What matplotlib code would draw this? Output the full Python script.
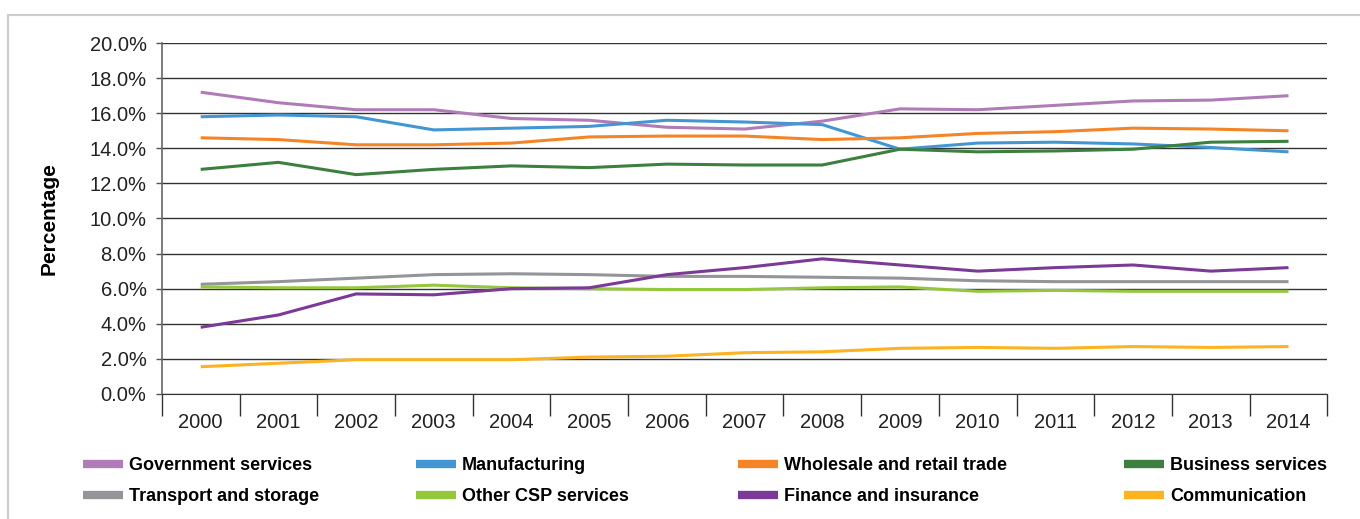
import matplotlib
matplotlib.use("Agg")
import matplotlib.pyplot as plt
from matplotlib.lines import Line2D
from matplotlib.patches import Rectangle
from matplotlib.ticker import FixedLocator, PercentFormatter

plt.rcParams['font.family'] = ['Liberation Sans', 'DejaVu Sans']

# data (percent)
years = list(range(2000, 2015))
government = [17.2, 16.6, 16.2, 16.2, 15.7, 15.6, 15.2, 15.1, 15.55, 16.25, 16.2, 16.45, 16.7, 16.75, 17.0]
manufacturing = [15.8, 15.9, 15.8, 15.05, 15.15, 15.25, 15.6, 15.5, 15.35, 13.95, 14.3, 14.35, 14.25, 14.05, 13.8]
wholesale = [14.6, 14.5, 14.2, 14.2, 14.3, 14.65, 14.7, 14.7, 14.5, 14.6, 14.85, 14.95, 15.15, 15.1, 15.0]
business = [12.8, 13.2, 12.5, 12.8, 13.0, 12.9, 13.1, 13.05, 13.05, 13.95, 13.8, 13.85, 13.95, 14.35, 14.4]
transport = [6.25, 6.4, 6.6, 6.8, 6.85, 6.8, 6.7, 6.7, 6.65, 6.6, 6.45, 6.4, 6.4, 6.4, 6.4]
other_csp = [6.1, 6.05, 6.05, 6.2, 6.05, 6.0, 5.95, 5.95, 6.05, 6.1, 5.85, 5.9, 5.85, 5.85, 5.85]
finance = [3.8, 4.5, 5.7, 5.65, 6.0, 6.05, 6.8, 7.2, 7.7, 7.35, 7.0, 7.2, 7.35, 7.0, 7.2]
communication = [1.55, 1.75, 1.95, 1.95, 1.95, 2.1, 2.15, 2.35, 2.4, 2.6, 2.65, 2.6, 2.7, 2.65, 2.7]

series = [
    ("Government services", government, "#B07CB8"),
    ("Manufacturing", manufacturing, "#4496D2"),
    ("Wholesale and retail trade", wholesale, "#F58426"),
    ("Business services", business, "#3C7F3F"),
    ("Transport and storage", transport, "#939598"),
    ("Other CSP services", other_csp, "#95C73D"),
    ("Finance and insurance", finance, "#7A3A96"),
    ("Communication", communication, "#FDB21F"),
]

fig = plt.figure(figsize=(13.6, 5.19), dpi=100)
ax = fig.add_axes([0.119, 0.241, 0.857, 0.676])

x = list(range(len(years)))
for name, vals, col in series:
    ax.plot(x, vals, color=col, lw=2.2, solid_capstyle='butt')

ax.set_xlim(-0.5, len(years) - 0.5)
ax.set_ylim(0, 20)
ax.set_yticks([i * 2 for i in range(11)])
ax.yaxis.set_major_formatter(PercentFormatter(decimals=1))
ax.set_xticks(x)
ax.set_xticklabels([str(y) for y in years])
ax.xaxis.set_minor_locator(FixedLocator([i - 0.5 for i in range(len(years) + 1)]))
ax.tick_params(axis='x', which='major', length=0, pad=14, labelsize=14.5, labelcolor='#222222')
ax.tick_params(axis='x', which='minor', length=16, width=1, color='#333333')
ax.tick_params(axis='y', length=4, width=1, color='#555555', labelsize=14.5, pad=7,
               labelcolor='#222222')

ax.grid(axis='y', color='#333333', lw=1)
ax.set_axisbelow(True)
for s in ['top', 'right']:
    ax.spines[s].set_visible(False)
ax.spines['left'].set_color('#666666')
ax.spines['left'].set_linewidth(1.2)
ax.spines['bottom'].set_color('#333333')

ax.set_ylabel("Percentage", fontsize=15, fontweight='bold', labelpad=22)

# legend: four columns, two rows
col_x = [82, 415, 737, 1123]
for c in range(4):
    hs = []
    for r in range(2):
        name, vals, col = series[c + 4 * r]
        hs.append(Line2D([], [], color=col, lw=6, label=name, solid_capstyle='butt'))
    leg = fig.legend(handles=hs, loc='upper left',
                     bbox_to_anchor=(col_x[c] / 1360 - 0.0045, 1 - 450 / 519),
                     frameon=False, handlelength=2.2, handletextpad=0.35,
                     labelspacing=0.78, borderaxespad=0,
                     prop={'weight': 'bold', 'size': 13})

fig.add_artist(Rectangle((8 / 1360, -0.1), 1.1, 1 - 15 / 519 + 0.1,
                         transform=fig.transFigure, fill=False,
                         edgecolor='#cccccc', lw=1.5))

fig.savefig("out.png", dpi=100)
